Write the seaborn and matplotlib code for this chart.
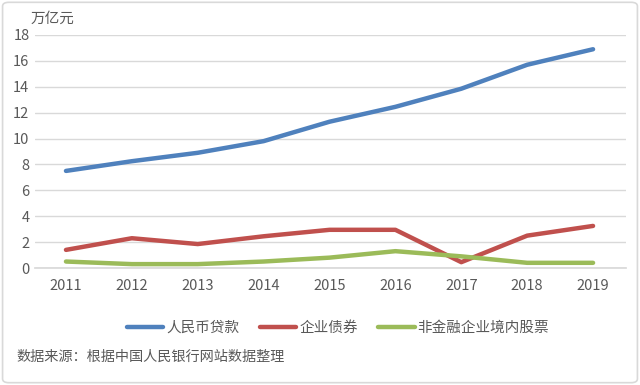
#!/usr/bin/env python3

import pandas as pd
import seaborn as sns
import matplotlib.pyplot as plt
from matplotlib.patches import FancyBboxPatch

sns.set_theme(style="white")
plt.rcParams["font.family"] = ["Noto Sans CJK SC", "DejaVu Sans"]

years = [2011, 2012, 2013, 2014, 2015, 2016, 2017, 2018, 2019]
loans = [7.5, 8.25, 8.9, 9.8, 11.3, 12.45, 13.85, 15.7, 16.9]
bonds = [1.4, 2.3, 1.85, 2.45, 2.95, 2.95, 0.45, 2.5, 3.25]
stocks = [0.5, 0.3, 0.3, 0.5, 0.8, 1.3, 0.9, 0.4, 0.4]
series_names = ["人民币贷款", "企业债券", "非金融企业境内股票"]
colors = ["#4F81BD", "#C0504D", "#9BBB59"]

df = pd.DataFrame({"year": years, series_names[0]: loans,
                   series_names[1]: bonds, series_names[2]: stocks})
long = df.melt(id_vars="year", var_name="series", value_name="value")

fig = plt.figure(figsize=(6.4, 3.85), dpi=100)
ax = fig.add_axes([35 / 640, 1 - 268 / 385, 591 / 640, 233 / 385])

sns.lineplot(data=long, x="year", y="value", hue="series",
             hue_order=series_names, palette=colors, linewidth=3.2,
             ax=ax, legend=False)

ax.set_xlim(2011 - 0.47, 2019 + 0.5)
ax.set_ylim(0, 18)
ax.set_yticks(range(0, 19, 2))
ax.set_xticks(years)
ax.yaxis.grid(True, color="#D9D9D9", linewidth=1)
ax.set_axisbelow(True)
for s in ["top", "right", "left"]:
    ax.spines[s].set_visible(False)
ax.spines["bottom"].set_color("#D9D9D9")
ax.set_xlabel("")
ax.set_ylabel("")
ax.tick_params(axis="both", colors="#595959", labelsize=10.5, length=0)
ax.tick_params(axis="x", pad=8)
ax.tick_params(axis="y", pad=4)

fig.text(31 / 640, 1 - 19 / 385, "万亿元", color="#595959", fontsize=10.5,
         va="center", ha="left")

handles = [plt.Line2D([], [], color=c, linewidth=3.2) for c in colors]
fig.legend(handles, series_names, loc="center", ncol=3,
           bbox_to_anchor=(338 / 640, 1 - 328 / 385), frameon=False,
           fontsize=10.5, handlelength=2.5, handletextpad=0.2,
           columnspacing=1.4, labelcolor="#595959")

fig.text(16 / 640, 1 - 357 / 385, "数据来源：根据中国人民银行网站数据整理",
         color="#595959", fontsize=10.2, va="center", ha="left")

border = FancyBboxPatch((0.004, 0.006), 0.992, 0.988,
                        boxstyle="round,pad=0,rounding_size=0.01",
                        transform=fig.transFigure, fill=False,
                        edgecolor="#D9D9D9", linewidth=1.2)
fig.patches.append(border)

fig.savefig("out.png", dpi=100)
